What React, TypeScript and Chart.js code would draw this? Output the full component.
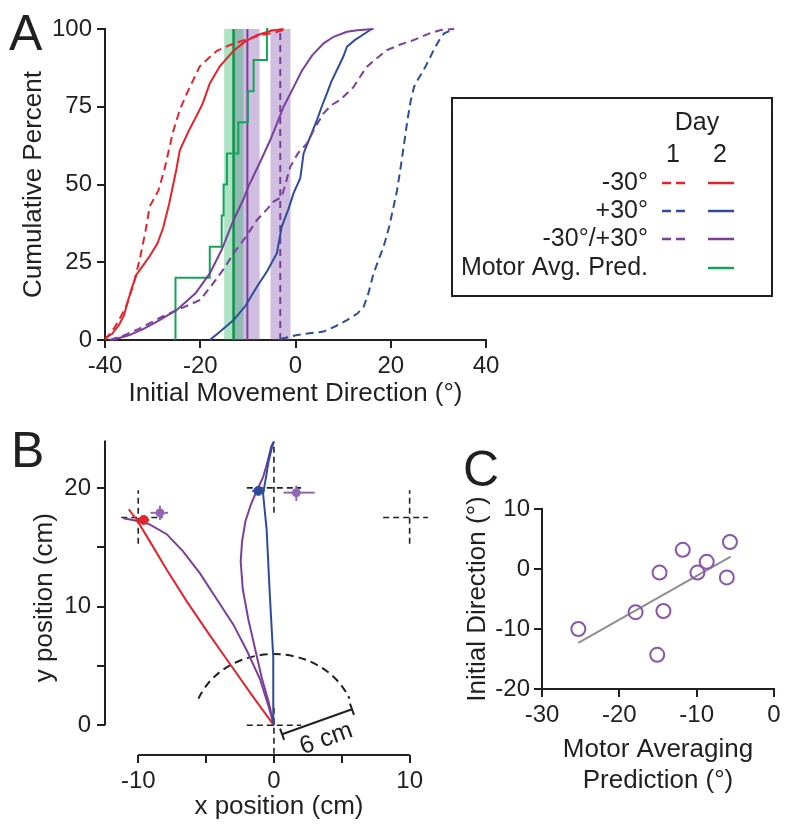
import React, { useEffect, useRef } from "react";
import { Chart, registerables } from "chart.js";

Chart.register(...registerables);

const FONT = "'Liberation Sans', Arial, Helvetica, sans-serif";
const INK = "#231f20";
const RED = "#e3242b";
const BLUE = "#2d4c9c";
const PURPLE = "#7a3f9d";
const PURPLE_LIGHT = "#9466b8";
const GREEN = "#14a457";
const GREEN_DARK = "#0e8f49";
const GREEN_BAND = "rgba(30,175,95,0.36)";
const PURPLE_BAND = "rgba(125,75,170,0.36)";
const GRAY = "#8e8e8e";

type P = [number, number];

// ---------------- Panel A : cumulative distributions ----------------
const A_X_TICKS = [-40, -20, 0, 20, 40];
const A_Y_TICKS = [0, 25, 50, 75, 100];

const redDay1: P[] = [
  [-40, 0], [-39.5, 1], [-38, 4], [-36.5, 8], [-35.5, 11], [-34, 18], [-32.7, 26], [-31.5, 35],
  [-30.6, 43], [-28.8, 48], [-27.5, 55], [-25.7, 67], [-24.3, 74], [-22.9, 79], [-20.1, 88],
  [-18, 91], [-16.5, 93], [-13.5, 95], [-11.6, 96], [-7.4, 98], [-4, 99], [-1.8, 100],
];
const redDay2: P[] = [
  [-40, 0.5], [-38.5, 2], [-37, 5], [-36, 8], [-35.3, 12], [-34.3, 17], [-33.4, 21], [-32, 24],
  [-30.6, 27], [-29, 31], [-27.8, 36], [-26.5, 44], [-25, 55], [-24.3, 61], [-22.5, 67],
  [-20.8, 72], [-19.5, 76], [-18, 82.5], [-15.9, 88], [-13, 93], [-10.5, 96], [-8.1, 98],
  [-5, 99.5], [-2.5, 100],
];
const blueDay1: P[] = [
  [-3.2, 0.3], [0.3, 1.6], [3, 2.2], [5.9, 2.7], [8.5, 4.5], [10.8, 6.4], [13, 8.5], [14.3, 10.7],
  [15.3, 15], [16.4, 21.4], [17.5, 26], [18.5, 30], [19.6, 36], [20.6, 42.9], [21.3, 48],
  [22, 54.7], [22.7, 62], [23.5, 70.7], [24.2, 77], [24.9, 81.4], [25.8, 84], [26.9, 86.8],
  [28, 90], [29, 93.2], [30, 96], [31.2, 98.6], [33.3, 100],
];
const blueDay2: P[] = [
  [-18, 0], [-16, 2.5], [-13, 6.4], [-10.5, 11], [-8.1, 17.1], [-6, 22], [-3.9, 27.9],
  [-2.9, 36.4], [-1.5, 42], [-0.4, 47.2], [1, 52], [1.7, 60], [3, 65], [4.5, 70.7], [5.5, 75],
  [6.6, 79.3], [7.5, 83], [8.7, 86.8], [10, 91], [10.8, 94.3], [12.5, 96.5], [14, 98], [16, 100],
];
const purpleDay1: P[] = [
  [-39, 0], [-36, 1.5], [-33, 3.5], [-30.6, 5.4], [-28, 7.5], [-25, 9.6], [-22, 11.5], [-20, 12.9],
  [-17.3, 18.2], [-15, 23], [-13, 27.9], [-10.5, 33], [-8.1, 38.6], [-6, 42], [-4.6, 44.5],
  [-2.9, 46], [-1.1, 55.7], [0.5, 60], [2.4, 63.2], [4, 68], [5.9, 72.9], [7.5, 75.5],
  [9.4, 77.2], [12.2, 81.4], [13.5, 84.5], [15, 87.9], [17, 90.5], [19.2, 93.2], [22, 95],
  [24.9, 96.5], [28, 98.5], [30.5, 99.7], [33.3, 100],
];
const purpleDay2: P[] = [
  [-38.5, 0], [-35, 1.5], [-32, 3.5], [-29, 6], [-25, 9.6], [-21, 15], [-18, 21.4], [-15.5, 29],
  [-13, 38.6], [-11, 45], [-9.9, 49.3], [-7.5, 57], [-5.3, 64.3], [-3.8, 70], [-2.5, 75],
  [-0.5, 81], [1.3, 86.5], [3.5, 91.5], [5.9, 95.4], [8, 97.5], [10.8, 99.1], [13, 99.6],
  [16.4, 100],
];
// motor averaging prediction (step CDF)
const motorStepX = [-25.2, -18.0, -15.5, -15.1, -14.4, -12.0, -10.0, -8.8, -6.0, -5.7];
const motorStepPct = [10, 20, 30, 40, 50, 60, 70, 80, 90, 100];
// means and SEM bands
const motorMean = -13.0;
const motorBand: P = [-15.0, -10.9];
const mixDay2Mean = -10.1;
const mixDay2Band: P = [-12.7, -7.5];
const mixDay1Mean = -3.2;
const mixDay1Band: P = [-5.3, -1.0];

const legendLabels = ["-30°", "+30°", "-30°/+30°", "Motor Avg. Pred."];
const legendColors = [RED, BLUE, PURPLE, GREEN];
const legendHasDay1 = [true, true, true, false];

// ---------------- Panel B : trajectories ----------------
const B_X_TICKS = [-10, -5, 0, 5, 10];
const B_Y_TICKS = [0, 5, 10, 15, 20];
const B_Y_TOP = 24;
const trajRed: P[] = [
  [0, 0], [-1.6, 2.5], [-3.2, 5.1], [-4.8, 7.7], [-6.4, 10.4], [-7.9, 13.1], [-9.2, 15.6],
  [-10.1, 17.3], [-10.7, 18.2],
];
const trajPurpleLeft: P[] = [
  [0, 0], [-0.4, 1.6], [-1.03, 3.9], [-2.0, 6.3], [-3.0, 8.5], [-4.2, 10.6], [-5.45, 12.8],
  [-6.7, 14.65], [-7.9, 16.1], [-9.2, 16.95], [-10.4, 17.3], [-11.1, 17.45],
];
const trajPurpleMid: P[] = [
  [0, 0], [-0.4, 2], [-0.9, 4], [-1.4, 6.5], [-1.9, 9], [-2.3, 11.5], [-2.45, 13.8],
  [-2.35, 15.5], [-2.1, 17.2], [-1.7, 18.6], [-1.25, 19.8], [-0.8, 20.9], [-0.45, 22.3],
  [-0.2, 23.5], [0, 23.9],
];
const trajBlue: P[] = [
  [0, 0], [-0.05, 5.7], [-0.3, 10.9], [-0.54, 16.5], [-0.8, 19.5], [-0.6, 20.8], [-0.4, 22.2],
  [-0.15, 23.4], [0, 23.9],
];
// target crosses: [hx0, hx1, hy, vx, vy0, vy1]
const targetCrosses = [
  [-11.25, -8.2, 17.5, -10, 15.3, 19.8],
  [8.05, 11.35, 17.5, 10, 15.3, 19.8],
  [-2, 2, 20, 0, 17.9, 23.6],
  [-2, 2, 0, 0, -2.4, 1.8],
];
// endpoint markers: [x, y, xLo, xHi, yLo, yHi]
const markerRed = [-9.6, 17.3, -10.0, -9.2, 17.0, 17.6];
const markerBlue = [-1.15, 19.75, -1.6, -0.7, 19.4, 20.1];
const markerPurpleLeft = [-8.4, 17.9, -9.1, -7.8, 17.3, 18.5];
const markerPurpleMid = [1.65, 19.6, 0.7, 3.0, 18.9, 20.2];
const ARC_RADIUS = 6;
const ARC_START_DEG = 22;
const ARC_END_DEG = 158;
const SCALE_BAR: P[] = [[0.6, -0.75], [5.75, 1.35]];
const SCALE_BAR_LABEL: P = [3.85, -1.15];

// ---------------- Panel C : correlation ----------------
const C_X_TICKS = [-30, -20, -10, 0];
const C_Y_TICKS = [-20, -10, 0, 10];
const motorPred = [-25.3, -17.9, -15.1, -14.8, -14.3, -11.8, -9.9, -8.7, -6.1, -5.7];
const initialDir = [-10.0, -7.2, -14.3, -0.6, -7.0, 3.2, -0.6, 1.2, -1.4, 4.5];
const fitLine: P[] = [[-25.3, -12.3], [-5.6, 2.05]];

// ---------------- helpers ----------------
const pts = (a: P[]) => a.map(([x, y]) => ({ x, y }));
const line = (data: any[], color: string, dash: number[] = [], width = 2, order = 1, extra: any = {}) => ({
  type: "line",
  data,
  borderColor: color,
  borderWidth: width,
  borderDash: dash,
  pointRadius: 0,
  fill: false,
  tension: 0,
  clip: false,
  order,
  ...extra,
});
const band = (b: P, color: string) => ({
  type: "line",
  data: [{ x: b[0], y: 100 }, { x: b[1], y: 100 }],
  borderColor: "rgba(0,0,0,0)",
  borderWidth: 1,
  backgroundColor: color,
  fill: "origin",
  pointRadius: 0,
  order: 10,
});
const vline = (x: number, y0: number, y1: number) => [{ x, y: y0 }, { x, y: y1 }];
const hline = (x0: number, x1: number, y: number) => [{ x: x0, y }, { x: x1, y }];
const fixedTicks = (vals: number[]) => (s: any) => {
  s.ticks = vals.map((value) => ({ value }));
};
const tickFont = { size: 24, family: FONT };
const titleFont = { size: 26, family: FONT, lineHeight: 1.2 };
const gridOut = { drawOnChartArea: false, drawTicks: true, tickLength: 8, color: INK, lineWidth: 2 };

const markerSets = (m: number[], color: string, r: number) => [
  line(hline(m[2], m[3], m[1]), color, [], 2, 0),
  line(vline(m[0], m[4], m[5]), color, [], 2, 0),
  {
    type: "line",
    data: [{ x: m[0], y: m[1] }],
    showLine: false,
    pointRadius: r,
    pointBackgroundColor: color,
    pointBorderColor: color,
    clip: false,
    order: 0,
  },
];

// ---------------- plugins ----------------
const legendPlugin = {
  id: "legendA",
  afterDraw(chart: any) {
    const ctx = chart.ctx;
    ctx.save();
    ctx.strokeStyle = INK;
    ctx.lineWidth = 2;
    ctx.setLineDash([]);
    ctx.strokeRect(452, 98, 320, 198);
    ctx.fillStyle = INK;
    ctx.font = `25px ${FONT}`;
    ctx.textBaseline = "middle";
    ctx.textAlign = "center";
    ctx.fillText("Day", 697, 123);
    ctx.fillText("1", 673, 155);
    ctx.fillText("2", 720, 155);
    const rowY = [183, 211, 239, 268];
    legendLabels.forEach((lab, i) => {
      const y = rowY[i];
      ctx.textAlign = "right";
      ctx.fillStyle = INK;
      ctx.fillText(lab, 648, y);
      ctx.strokeStyle = legendColors[i];
      ctx.lineWidth = 2.5;
      if (legendHasDay1[i]) {
        ctx.setLineDash([9, 5]);
        ctx.beginPath();
        ctx.moveTo(662, y);
        ctx.lineTo(686, y);
        ctx.stroke();
      }
      ctx.setLineDash([]);
      ctx.beginPath();
      ctx.moveTo(708, y);
      ctx.lineTo(734, y);
      ctx.stroke();
    });
    ctx.restore();
  },
};

const bDecorPlugin = {
  id: "bDecor",
  beforeDatasetsDraw(chart: any) {
    const { ctx, chartArea } = chart;
    const xs = chart.scales.x;
    const ys = chart.scales.y;
    ctx.save();
    ctx.strokeStyle = INK;
    ctx.lineWidth = 2;
    ctx.setLineDash([]);
    // detached axes
    ctx.beginPath();
    ctx.moveTo(chartArea.left, ys.getPixelForValue(B_Y_TICKS[0]));
    ctx.lineTo(chartArea.left, ys.getPixelForValue(B_Y_TOP));
    ctx.moveTo(xs.getPixelForValue(B_X_TICKS[0]), chartArea.bottom);
    ctx.lineTo(xs.getPixelForValue(B_X_TICKS[B_X_TICKS.length - 1]), chartArea.bottom);
    ctx.stroke();
    // dashed arc
    const cx = xs.getPixelForValue(0);
    const cy = ys.getPixelForValue(0);
    const rx = xs.getPixelForValue(ARC_RADIUS) - cx;
    const ry = cy - ys.getPixelForValue(ARC_RADIUS);
    ctx.setLineDash([8, 5]);
    ctx.beginPath();
    ctx.ellipse(cx, cy, rx, ry, 0, (-ARC_END_DEG * Math.PI) / 180, (-ARC_START_DEG * Math.PI) / 180);
    ctx.stroke();
    // scale bar
    ctx.setLineDash([]);
    const p1 = { x: xs.getPixelForValue(SCALE_BAR[0][0]), y: ys.getPixelForValue(SCALE_BAR[0][1]) };
    const p2 = { x: xs.getPixelForValue(SCALE_BAR[1][0]), y: ys.getPixelForValue(SCALE_BAR[1][1]) };
    const ang = Math.atan2(p2.y - p1.y, p2.x - p1.x);
    const nx = -Math.sin(ang) * 6;
    const ny = Math.cos(ang) * 6;
    ctx.beginPath();
    ctx.moveTo(p1.x, p1.y);
    ctx.lineTo(p2.x, p2.y);
    ctx.moveTo(p1.x - nx, p1.y - ny);
    ctx.lineTo(p1.x + nx, p1.y + ny);
    ctx.moveTo(p2.x - nx, p2.y - ny);
    ctx.lineTo(p2.x + nx, p2.y + ny);
    ctx.stroke();
    ctx.translate(xs.getPixelForValue(SCALE_BAR_LABEL[0]), ys.getPixelForValue(SCALE_BAR_LABEL[1]));
    ctx.rotate(ang);
    ctx.fillStyle = INK;
    ctx.font = `25px ${FONT}`;
    ctx.textAlign = "center";
    ctx.textBaseline = "middle";
    ctx.fillText("6 cm", 0, 0);
    ctx.restore();
  },
  afterDraw(chart: any) {
    const { ctx } = chart;
    const xs = chart.scales.x;
    ctx.save();
    ctx.fillStyle = INK;
    ctx.font = `26px ${FONT}`;
    ctx.textAlign = "center";
    ctx.textBaseline = "middle";
    ctx.fillText("x position (cm)", xs.getPixelForValue(0) + 5, 387);
    ctx.restore();
  },
};

// ---------------- chart configs ----------------
const configA = () => ({
  type: "line",
  data: {
    datasets: [
      band(motorBand, GREEN_BAND),
      band(mixDay2Band, PURPLE_BAND),
      band(mixDay1Band, PURPLE_BAND),
      line(vline(motorMean, 0, 100), GREEN_DARK, [], 2.5, 3),
      line(vline(mixDay2Mean, 0, 100), PURPLE, [], 2, 3),
      line(vline(mixDay1Mean, 0, 100), PURPLE, [7, 5], 2, 3),
      line(
        [{ x: motorStepX[0], y: 0 }, ...motorStepX.map((x, i) => ({ x, y: motorStepPct[i] }))],
        GREEN, [], 2, 2, { stepped: "after" }
      ),
      line(pts(purpleDay1), PURPLE, [8, 5]),
      line(pts(purpleDay2), PURPLE),
      line(pts(blueDay1), BLUE, [8, 5]),
      line(pts(blueDay2), BLUE),
      line(pts(redDay1), RED, [8, 5]),
      line(pts(redDay2), RED),
    ],
  },
  options: {
    responsive: false,
    animation: false,
    events: [],
    layout: { padding: { left: 0, top: 29, right: 314, bottom: 0 } },
    plugins: { legend: { display: false }, tooltip: { enabled: false } },
    scales: {
      x: {
        type: "linear",
        min: -40,
        max: 40,
        afterBuildTicks: fixedTicks(A_X_TICKS),
        afterFit: (s: any) => { s.height = 80; },
        ticks: { font: tickFont, color: INK, padding: 4, maxRotation: 0, minRotation: 0, autoSkip: false },
        grid: gridOut,
        border: { display: true, color: INK, width: 2 },
        title: { display: true, text: "Initial Movement Direction (°)", font: titleFont, color: INK, padding: { top: 0, bottom: 11 } },
      },
      y: {
        type: "linear",
        min: 0,
        max: 100,
        afterBuildTicks: fixedTicks(A_Y_TICKS),
        afterFit: (s: any) => { s.width = 105; },
        ticks: { font: tickFont, color: INK, padding: 5, autoSkip: false },
        grid: gridOut,
        border: { display: true, color: INK, width: 2 },
        title: { display: true, text: "Cumulative Percent", font: titleFont, color: INK, padding: { top: 18, bottom: 0 } },
      },
    },
  },
  plugins: [legendPlugin],
});

const configB = () => ({
  type: "line",
  data: {
    datasets: [
      ...targetCrosses.flatMap((c) => [
        line(hline(c[0], c[1], c[2]), INK, [6, 4], 1.6, 4),
        line(vline(c[3], c[4], c[5]), INK, [6, 4], 1.6, 4),
      ]),
      line(pts(trajPurpleLeft), PURPLE, [], 2, 2),
      line(pts(trajPurpleMid), PURPLE, [], 2, 2),
      line(pts(trajBlue), BLUE, [], 2, 1),
      line(pts(trajRed), RED, [], 2, 1),
      ...markerSets(markerPurpleLeft, PURPLE_LIGHT, 4),
      ...markerSets(markerPurpleMid, PURPLE_LIGHT, 4),
      ...markerSets(markerBlue, BLUE, 4.5),
      ...markerSets(markerRed, RED, 4.5),
    ],
  },
  options: {
    responsive: false,
    animation: false,
    events: [],
    layout: { padding: { left: 0, top: 8, right: 10, bottom: 0 } },
    plugins: { legend: { display: false }, tooltip: { enabled: false } },
    scales: {
      x: {
        type: "linear",
        min: -12.45,
        max: 11.5,
        afterBuildTicks: fixedTicks(B_X_TICKS),
        afterFit: (s: any) => { s.height = 81; },
        ticks: {
          font: tickFont, color: INK, padding: 4, maxRotation: 0, minRotation: 0, autoSkip: false,
          callback: (v: any) => (v % 10 === 0 ? String(v) : ""),
        },
        grid: gridOut,
        border: { display: false },
      },
      y: {
        type: "linear",
        min: -2.5,
        max: B_Y_TOP,
        afterBuildTicks: fixedTicks(B_Y_TICKS),
        afterFit: (s: any) => { s.width = 105; },
        ticks: {
          font: tickFont, color: INK, padding: 6, autoSkip: false,
          callback: (v: any) => (v % 10 === 0 ? String(v) : ""),
        },
        grid: gridOut,
        border: { display: false },
        title: { display: true, text: "y position (cm)", font: titleFont, color: INK, padding: { top: 29, bottom: 0 } },
      },
    },
  },
  plugins: [bDecorPlugin],
});

const configC = () => ({
  type: "scatter",
  data: {
    datasets: [
      {
        data: motorPred.map((x, i) => ({ x, y: initialDir[i] })),
        pointRadius: 7,
        pointBorderWidth: 2,
        pointBorderColor: "#8a55ad",
        pointBackgroundColor: "rgba(0,0,0,0)",
        clip: false,
        order: 0,
      },
      {
        data: pts(fitLine),
        showLine: true,
        borderColor: GRAY,
        borderWidth: 2,
        pointRadius: 0,
        order: 1,
      },
    ],
  },
  options: {
    responsive: false,
    animation: false,
    events: [],
    layout: { padding: { left: 0, top: 89, right: 26, bottom: 0 } },
    plugins: { legend: { display: false }, tooltip: { enabled: false } },
    scales: {
      x: {
        type: "linear",
        min: -30,
        max: 0,
        afterBuildTicks: fixedTicks(C_X_TICKS),
        afterFit: (s: any) => { s.height = 147; },
        ticks: { font: tickFont, color: INK, padding: 4, maxRotation: 0, minRotation: 0, autoSkip: false },
        grid: gridOut,
        border: { display: true, color: INK, width: 2 },
        title: {
          display: true,
          text: ["Motor Averaging", "Prediction (°)"],
          font: { size: 26, family: FONT, lineHeight: 1.19 },
          color: INK,
          padding: { top: 0, bottom: 40 },
        },
      },
      y: {
        type: "linear",
        min: -20,
        max: 10,
        afterBuildTicks: fixedTicks(C_Y_TICKS),
        afterFit: (s: any) => { s.width = 102; },
        ticks: { font: tickFont, color: INK, padding: 4, autoSkip: false },
        grid: gridOut,
        border: { display: true, color: INK, width: 2 },
        title: { display: true, text: "Initial Direction (°)", font: titleFont, color: INK, padding: { top: 22, bottom: 0 } },
      },
    },
  },
});

function ChartBox({ left, top, width, height, make }: any) {
  const ref = useRef<HTMLCanvasElement>(null);
  useEffect(() => {
    const chart = new Chart(ref.current as HTMLCanvasElement, make() as any);
    return () => chart.destroy();
  }, []);
  return (
    <div style={{ position: "absolute", left, top, width, height }}>
      <canvas ref={ref} width={width} height={height} style={{ display: "block", width, height }} />
    </div>
  );
}

const letterStyle = (left: number, top: number): React.CSSProperties => ({
  position: "absolute",
  left,
  top,
  fontFamily: FONT,
  fontSize: 50,
  lineHeight: "50px",
  color: INK,
});

export default function App() {
  return (
    <div style={{ position: "absolute", left: 0, top: 0, width: 800, height: 836, background: "#fff", overflow: "hidden" }}>
      <ChartBox left={0} top={0} width={800} height={420} make={configA} />
      <ChartBox left={0} top={420} width={440} height={416} make={configB} />
      <ChartBox left={440} top={420} width={360} height={416} make={configC} />
      <div style={letterStyle(9, 8)}>A</div>
      <div style={letterStyle(11, 425)}>B</div>
      <div style={letterStyle(463, 444)}>C</div>
    </div>
  );
}
